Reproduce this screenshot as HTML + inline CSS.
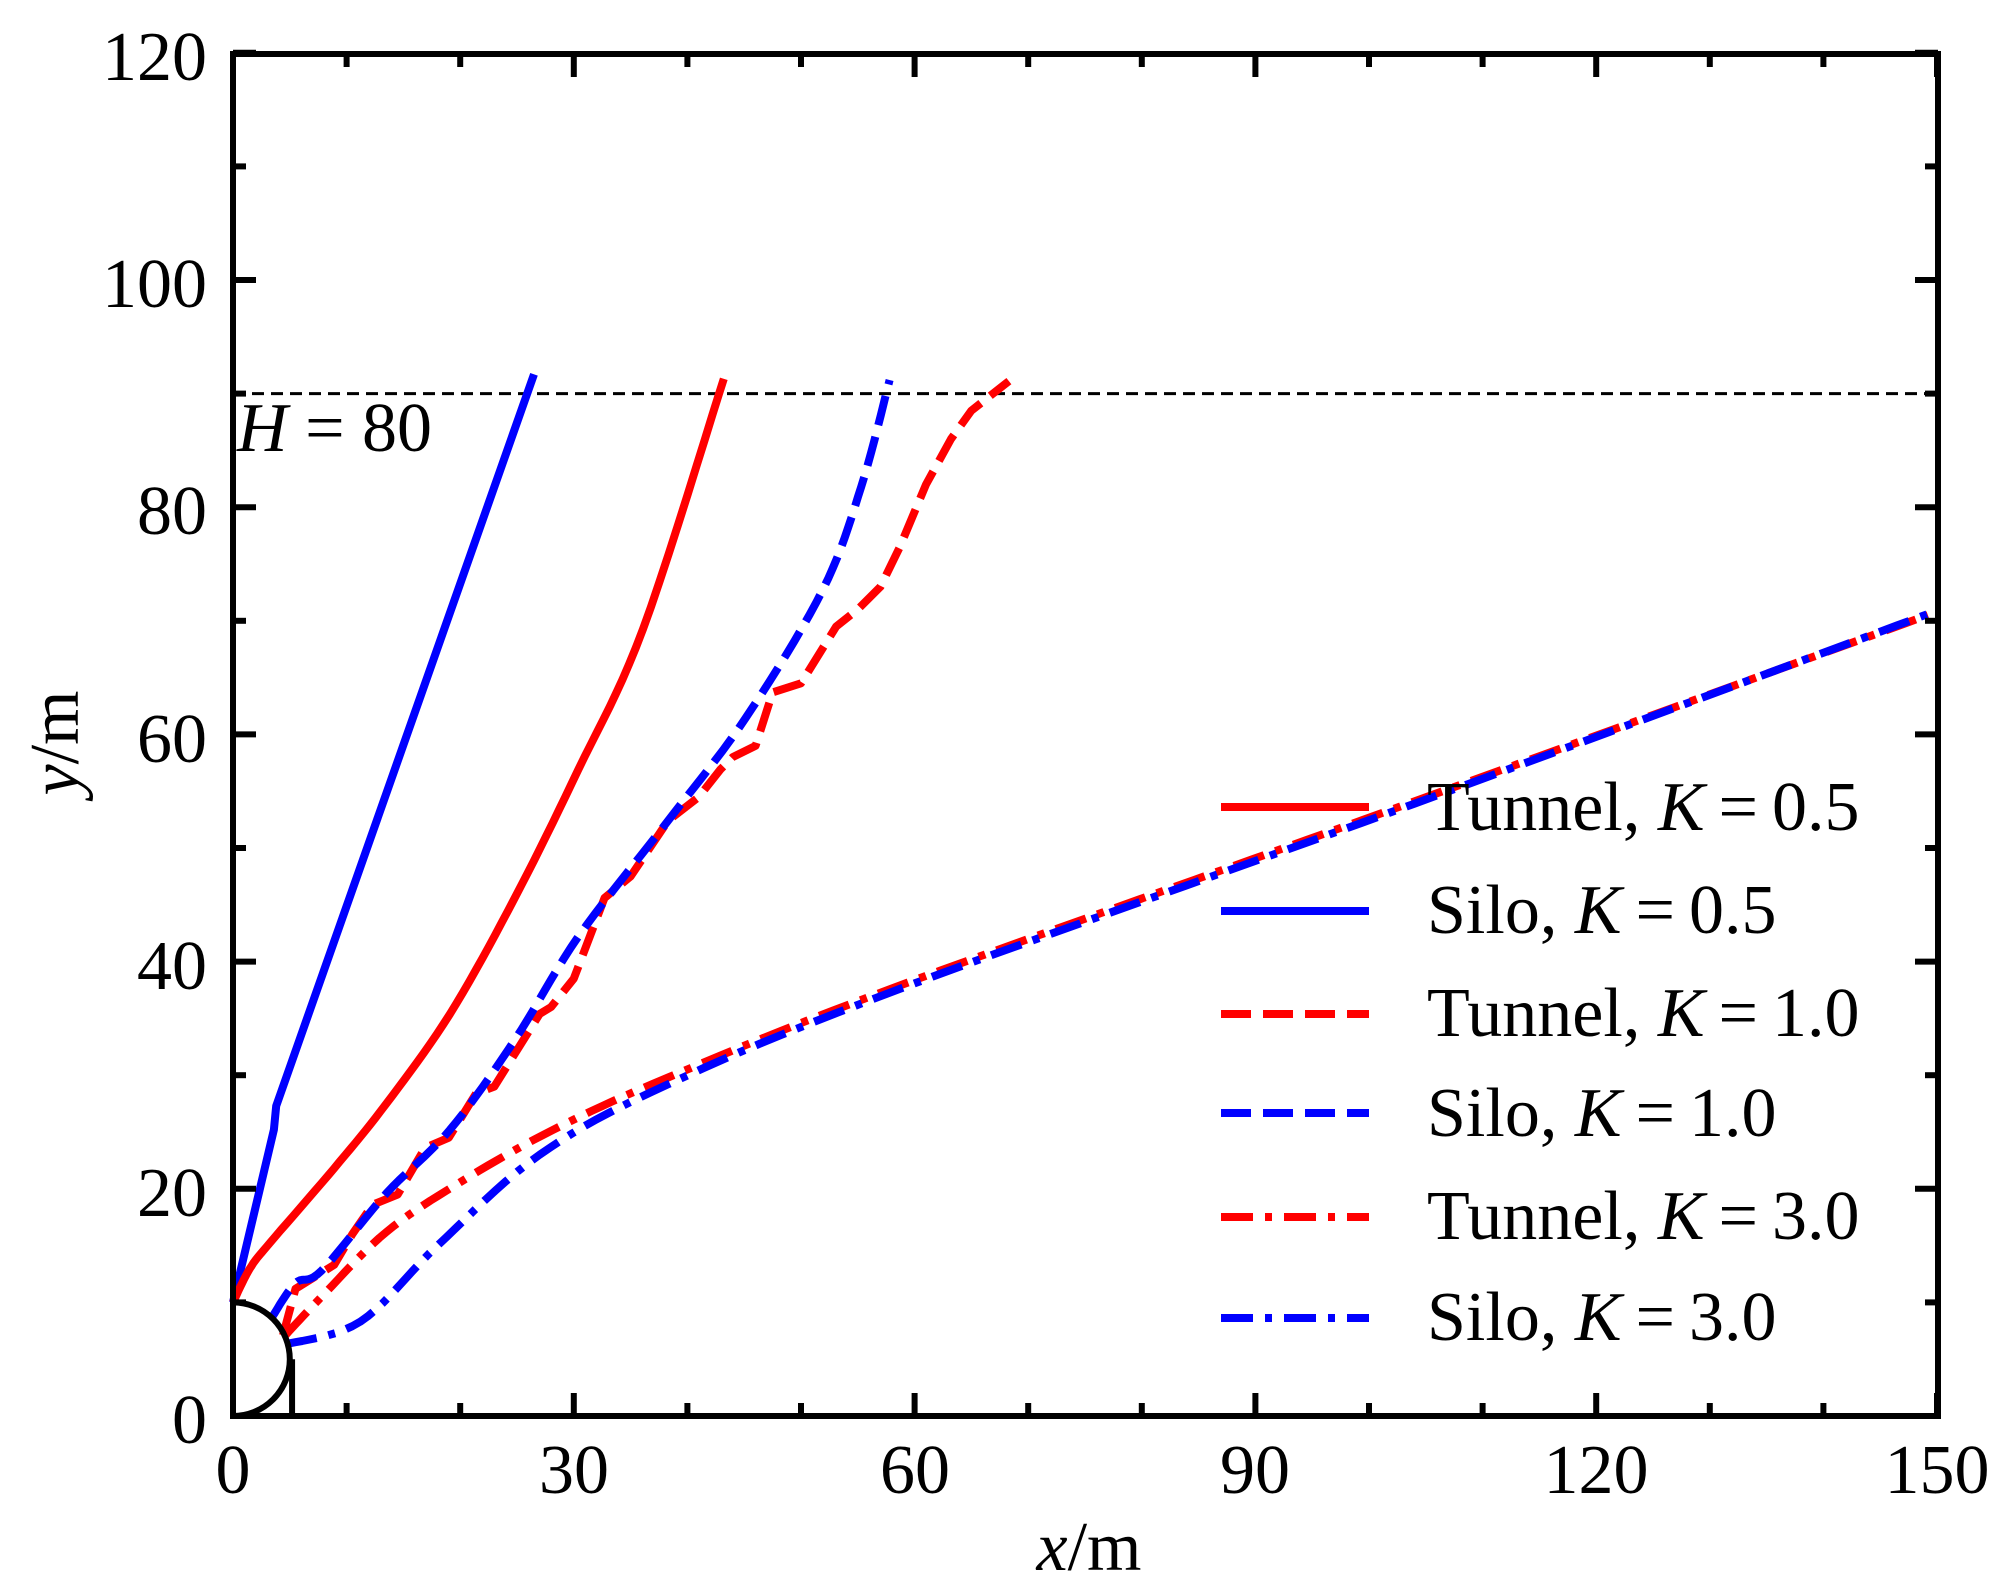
<!DOCTYPE html>
<html><head><meta charset="utf-8"><style>
html,body{margin:0;padding:0;background:#fff}
svg{display:block}
text{font-family:"Liberation Serif",serif;fill:#000}
</style></head><body>
<svg id="s" width="2015" height="1593" viewBox="0 0 2015 1593" xmlns="http://www.w3.org/2000/svg">
<g font-size="70">
<text x="207" y="80" text-anchor="end">120</text>
<text x="207" y="307" text-anchor="end">100</text>
<text x="207" y="534" text-anchor="end">80</text>
<text x="207" y="762" text-anchor="end">60</text>
<text x="207" y="989" text-anchor="end">40</text>
<text x="207" y="1216" text-anchor="end">20</text>
<text x="207" y="1443" text-anchor="end">0</text>
<text x="233" y="1493" text-anchor="middle">0</text>
<text x="574" y="1493" text-anchor="middle">30</text>
<text x="915" y="1493" text-anchor="middle">60</text>
<text x="1255" y="1493" text-anchor="middle">90</text>
<text x="1596" y="1493" text-anchor="middle">120</text>
<text x="1937" y="1493" text-anchor="middle">150</text>
<text x="1089" y="1570" text-anchor="middle"><tspan font-style="italic">x</tspan>/m</text>
<text transform="translate(78,743) rotate(-90)" text-anchor="middle"><tspan font-style="italic">y</tspan>/m</text>
<text x="237" y="451"><tspan font-style="italic">H</tspan> = 80</text>
</g>
<g id="plot"></g>
<g font-size="70">
<text x="1427" y="830">Tunnel, <tspan font-style="italic">K</tspan>&#8201;=&#8201;0.5</text>
<text x="1427" y="933">Silo, <tspan font-style="italic">K</tspan>&#8201;=&#8201;0.5</text>
<text x="1427" y="1036">Tunnel, <tspan font-style="italic">K</tspan>&#8201;=&#8201;1.0</text>
<text x="1427" y="1136">Silo, <tspan font-style="italic">K</tspan>&#8201;=&#8201;1.0</text>
<text x="1427" y="1239">Tunnel, <tspan font-style="italic">K</tspan>&#8201;=&#8201;3.0</text>
<text x="1427" y="1340">Silo, <tspan font-style="italic">K</tspan>&#8201;=&#8201;3.0</text>
</g>
</svg>
<script>
var L=233,R=1938,T=54,B=1416,S=11.36;
function X(x){return L+S*x}function Y(y){return B-S*y}
var g=document.getElementById('plot'),h='';
function pl(pts,col,da,w){h+='<polyline fill="none" stroke="'+col+'" stroke-width="'+(w||8)+'" stroke-linejoin="round"'+(da?' stroke-dasharray="'+da+'"':'')+' points="'+pts.map(function(p){return X(p[0]).toFixed(1)+','+Y(p[1]).toFixed(1)}).join(' ')+'"/>';}
function smooth(pts){var o=[];for(var i=0;i<pts.length-1;i++){var p0=pts[Math.max(i-1,0)],p1=pts[i],p2=pts[i+1],p3=pts[Math.min(i+2,pts.length-1)];for(var t=0;t<1;t+=0.1){var t2=t*t,t3=t2*t;o.push([0.5*(2*p1[0]+(-p0[0]+p2[0])*t+(2*p0[0]-5*p1[0]+4*p2[0]-p3[0])*t2+(-p0[0]+3*p1[0]-3*p2[0]+p3[0])*t3),0.5*(2*p1[1]+(-p0[1]+p2[1])*t+(2*p0[1]-5*p1[1]+4*p2[1]-p3[1])*t2+(-p0[1]+3*p1[1]-3*p2[1]+p3[1])*t3)]);}}o.push(pts[pts.length-1]);return o;}
var D='30 12',DD='32 12 7 12';
h+='<line x1="'+L+'" y1="'+Y(90)+'" x2="'+R+'" y2="'+Y(90)+'" stroke="#000" stroke-width="3" stroke-dasharray="12 7"/>';
pl([[0,10],[3.6,25.2],[3.8,27.3],[26.5,91.7]],'#00f');
pl(smooth([[0,10],[1.5,13],[3.3,15.3],[8.9,21.8],[13.5,27.5],[19.1,35.4],[24.8,45.6],[30.4,56.9],[36.1,69.3],[43.2,91.3]]),'#f00');
pl([[4.4,7.1],[5.5,11.2],[8.9,13.3],[10.5,16],[12.3,18.6],[14.5,19.5],[16.9,23.6],[19,24.5],[21.4,28.4],[23,29],[27,35.4],[28,36],[30,38.5],[32.7,45.6],[35,47.5],[38.3,52.4],[41,54.5],[42.9,56.9],[44,58],[46,59],[47.5,63.7],[50,64.5],[53.1,69.5],[55,71],[57,73],[58.7,76.5],[61,82],[63.2,86],[65,88.5],[68.3,91.1]],'#f00',D);
pl(smooth([[3.5,8.8],[5.5,11.7],[7.8,12.8],[13.5,19.6],[19.1,25.2],[24.8,33.1],[30.4,42.2],[38.3,52.4],[45.1,61.4],[51.9,72.7],[55.3,81.8],[57.8,91.2]]),'#00f',D);
pl(smooth([[4.6,7.1],[7.8,10.5],[13.5,16.2],[20.2,20.7],[28.2,25.2],[38.3,29.8],[58.7,37.9],[104,54.1],[149.2,70.5]]),'#f00',DD);
pl(smooth([[4.6,6.3],[11.2,8.3],[18,15],[27,23],[38.3,29.2],[58.7,37.6],[104,53.9],[149.2,70.6]]),'#00f',DD);
h+='<path d="M'+X(0)+','+Y(10)+' A'+(5*S)+','+(5*S)+' 0 0 1 '+X(0)+','+Y(0)+'" fill="none" stroke="#000" stroke-width="6"/>';
h+='<line x1="'+X(5.2)+'" y1="'+Y(5)+'" x2="'+X(5.2)+'" y2="'+B+'" stroke="#000" stroke-width="6"/>';
for(var v=0;v<=150;v+=10){var maj=v%30==0,len=maj?23:13,x=X(v);
h+='<line x1="'+x+'" y1="'+B+'" x2="'+x+'" y2="'+(B-len)+'" stroke="#000" stroke-width="6"/>';
h+='<line x1="'+x+'" y1="'+T+'" x2="'+x+'" y2="'+(T+len)+'" stroke="#000" stroke-width="6"/>';}
for(var v=0;v<=120;v+=10){var maj=v%20==0,len=maj?23:13,y=Y(v);
h+='<line x1="'+L+'" y1="'+y+'" x2="'+(L+len)+'" y2="'+y+'" stroke="#000" stroke-width="6"/>';
h+='<line x1="'+R+'" y1="'+y+'" x2="'+(R-len)+'" y2="'+y+'" stroke="#000" stroke-width="6"/>';}
h+='<rect x="'+L+'" y="'+T+'" width="'+(R-L)+'" height="'+(B-T)+'" fill="none" stroke="#000" stroke-width="6"/>';
var ly=[807,911,1014,1113,1217,1318],lc=['#f00','#00f','#f00','#00f','#f00','#00f'],ld=['','',D,D,DD,DD];
for(var i=0;i<6;i++){h+='<line x1="1221" y1="'+ly[i]+'" x2="1369" y2="'+ly[i]+'" stroke="'+lc[i]+'" stroke-width="8"'+(ld[i]?' stroke-dasharray="'+ld[i]+'"':'')+'/>';}
g.innerHTML=h;
</script>
</body></html>
